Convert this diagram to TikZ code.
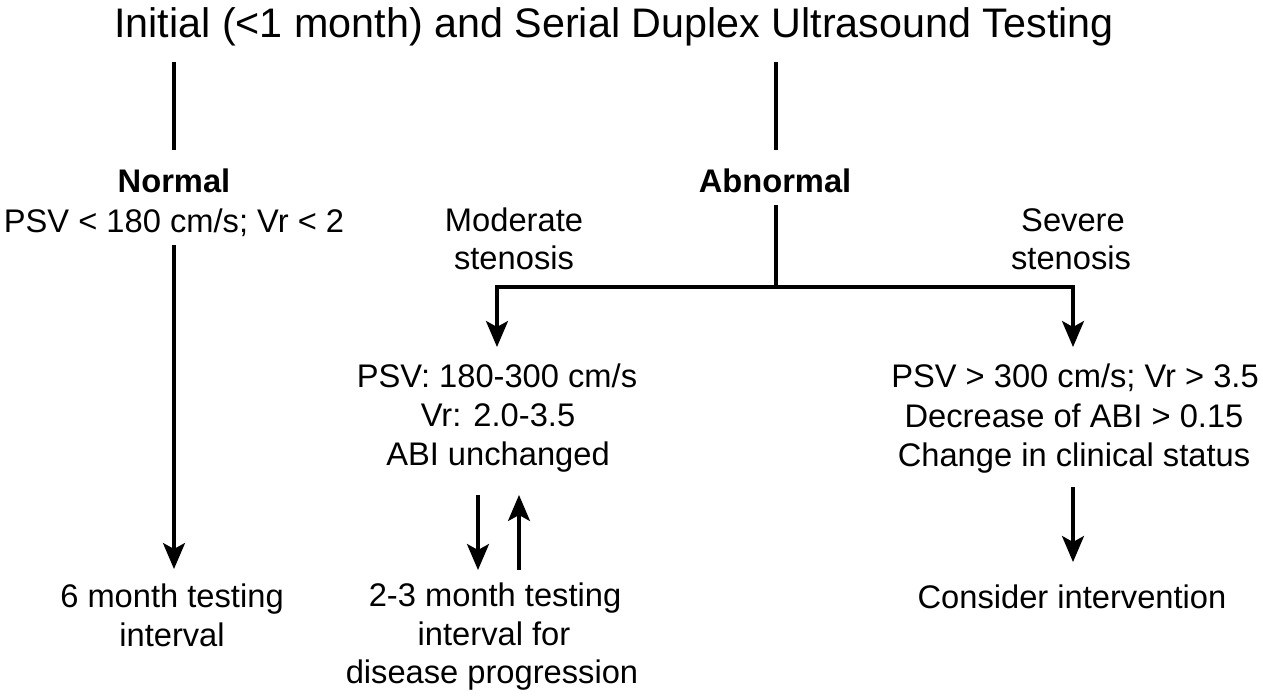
\documentclass[tikz,border=0pt]{standalone}
\usepackage{fontspec}
\setmainfont{Liberation Sans}
\usetikzlibrary{arrows.meta}
\begin{document}
\begin{tikzpicture}[x=0.02cm,y=-0.02cm,
  txt/.style={anchor=base,inner sep=0pt,font=\fontsize{18.6}{22}\selectfont},
  btxt/.style={txt,font=\fontsize{18.6}{22}\selectfont\bfseries},
  ttl/.style={anchor=base,inner sep=0pt,font=\fontsize{23.5}{28}\selectfont},
  ln/.style={line width=1.8pt},
  arr/.style={ln,-{Stealth[length=0.52cm,width=0.44cm,inset=0.12cm]}}]
\useasboundingbox (0,0) rectangle (1263,696);
% title
\node[ttl] (title) at (614,38) {Initial (<1 month) and Serial Duplex Ultrasound Testing};
% left column
\node[btxt] (normal) at (174,192) {Normal};
\node[txt] (normcrit) at (174,232) {PSV < 180 cm/s; Vr < 2};
\node[txt] (six1) at (172,607) {6 month testing};
\node[txt] (six2) at (172,646) {interval};
% abnormal
\node[btxt] (abnormal) at (775,192) {Abnormal};
\node[txt] (mod1) at (514,231) {Moderate};
\node[txt] (mod2) at (514,269) {stenosis};
\node[txt] (sev1) at (1073,231) {Severe};
\node[txt] (sev2) at (1071,269) {stenosis};
% middle block
\node[txt] (m1) at (497,387) {PSV: 180-300 cm/s};
\node[txt] (m2) at (498,426) {Vr: 2.0-3.5};
\node[txt] (m3) at (498,465) {ABI unchanged};
\node[txt] (b1) at (495,606) {2-3 month testing};
\node[txt] (b2) at (494,645) {interval for};
\node[txt] (b3) at (492,683) {disease progression};
% right block
\node[txt] (r1) at (1075,387) {PSV > 300 cm/s; Vr > 3.5};
\node[txt] (r2) at (1074,427) {Decrease of ABI > 0.15};
\node[txt] (r3) at (1074,466) {Change in clinical status};
\node[txt] (cons) at (1072,608) {Consider intervention};
% coordinates
\coordinate (tl1) at (174,62);
\coordinate (tl2) at (174,150);
\coordinate (tr1) at (776,62);
\coordinate (tr2) at (776,150);
\coordinate (la1) at (174,245);
\coordinate (la2) at (174,569);
\coordinate (ab1) at (776,205);
\coordinate (ab2) at (776,287);
\coordinate (hl) at (497,287);
\coordinate (hr) at (1073,287);
\coordinate (hlt) at (497,347);
\coordinate (hrt) at (1073,347);
\coordinate (md1) at (478,495);
\coordinate (md2) at (478,570);
\coordinate (mu1) at (519,570);
\coordinate (mu2) at (519,495);
\coordinate (rd1) at (1073,487);
\coordinate (rd2) at (1073,562);
% connectors
\draw[ln] (tl1) -- (tl2);
\draw[ln] (tr1) -- (tr2);
\draw[arr] (la1) -- (la2);
\draw[ln] (ab1) -- (ab2);
\draw[arr] (ab2) -- (hl) -- (hlt);
\draw[arr] (ab2) -- (hr) -- (hrt);
\draw[arr] (md1) -- (md2);
\draw[arr] (mu1) -- (mu2);
\draw[arr] (rd1) -- (rd2);
\end{tikzpicture}
\end{document}
